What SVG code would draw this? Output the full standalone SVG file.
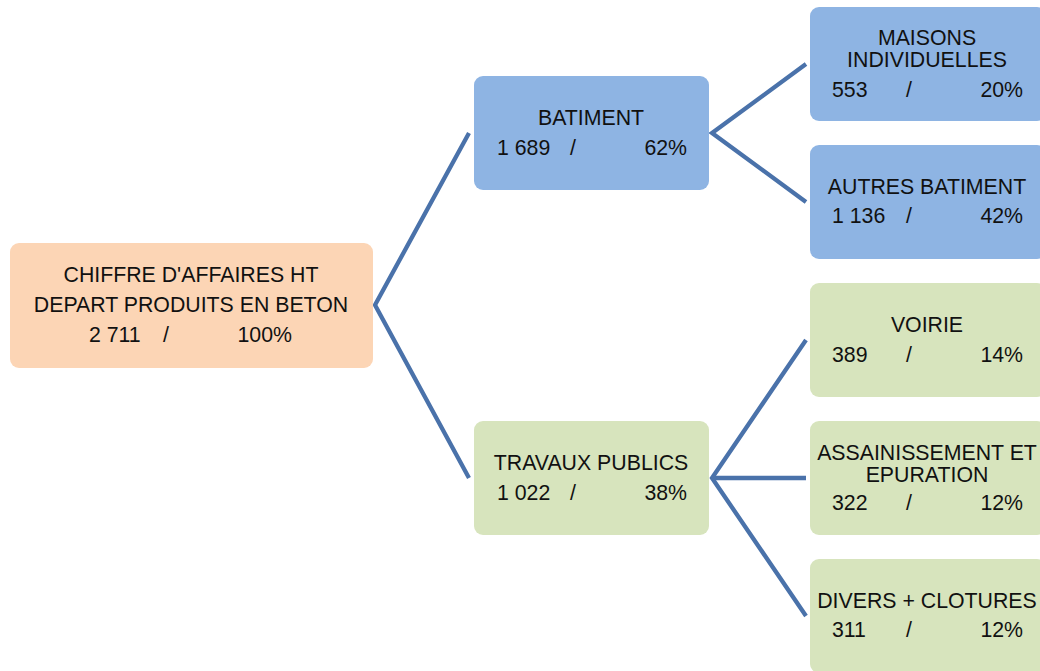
<svg xmlns="http://www.w3.org/2000/svg" width="1040" height="671" viewBox="0 0 1040 671">
<style>
text{font-family:"Liberation Sans",Arial,sans-serif;font-size:21.3px;fill:#111;}
.c{text-anchor:middle;}
.e{text-anchor:end;}
.root{fill:#FCD5B5;}
.blue{fill:#8EB4E3;}
.green{fill:#D7E4BD;}
.conn{stroke:#4A72AA;stroke-width:4.3;fill:none;stroke-linejoin:miter;}
</style>
<rect width="1040" height="671" fill="#fff"/>
<g id="connectors">
<polyline class="conn" points="469,133 375,305 469,478"/>
<polyline class="conn" points="806,64 712,133 806,202"/>
<polyline class="conn" points="806,340 712,478 806,616"/>
<line class="conn" x1="712" y1="478" x2="806" y2="478"/>
</g>
<g id="root">
<rect class="root" x="10" y="243" width="363" height="125" rx="9"/>
<text class="c" x="191" y="282">CHIFFRE D'AFFAIRES HT</text>
<text class="c" x="191" y="312">DEPART PRODUITS EN BETON</text>
<text x="89" y="342">2 711</text><text x="163" y="342">/</text><text class="e" x="292" y="342">100%</text>
</g>
<g id="batiment">
<rect class="blue" x="474" y="76" width="235" height="114" rx="9"/>
<text class="c" x="591" y="125">BATIMENT</text>
<text x="497" y="155">1 689</text><text x="570" y="155">/</text><text class="e" x="687" y="155">62%</text>
</g>
<g id="travaux-publics">
<rect class="green" x="474" y="421" width="235" height="114" rx="9"/>
<text class="c" x="591" y="470">TRAVAUX PUBLICS</text>
<text x="497" y="500">1 022</text><text x="570" y="500">/</text><text class="e" x="687" y="500">38%</text>
</g>
<g id="maisons-individuelles">
<rect class="blue" x="810" y="7" width="236" height="114" rx="9"/>
<text class="c" x="927" y="45">MAISONS</text>
<text class="c" x="927" y="67">INDIVIDUELLES</text>
<text x="832" y="97">553</text><text x="906" y="97">/</text><text class="e" x="1023" y="97">20%</text>
</g>
<g id="autres-batiment">
<rect class="blue" x="810" y="145" width="236" height="114" rx="9"/>
<text class="c" x="927" y="194">AUTRES BATIMENT</text>
<text x="832" y="223">1 136</text><text x="906" y="223">/</text><text class="e" x="1023" y="223">42%</text>
</g>
<g id="voirie">
<rect class="green" x="810" y="283" width="236" height="114" rx="9"/>
<text class="c" x="927" y="332">VOIRIE</text>
<text x="832" y="362">389</text><text x="906" y="362">/</text><text class="e" x="1023" y="362">14%</text>
</g>
<g id="assainissement">
<rect class="green" x="810" y="421" width="236" height="114" rx="9"/>
<text class="c" x="927" y="460">ASSAINISSEMENT ET</text>
<text class="c" x="927" y="482">EPURATION</text>
<text x="832" y="510">322</text><text x="906" y="510">/</text><text class="e" x="1023" y="510">12%</text>
</g>
<g id="divers-clotures">
<rect class="green" x="810" y="559" width="236" height="114" rx="9"/>
<text class="c" x="927" y="608">DIVERS + CLOTURES</text>
<text x="832" y="637">311</text><text x="906" y="637">/</text><text class="e" x="1023" y="637">12%</text>
</g>
</svg>
